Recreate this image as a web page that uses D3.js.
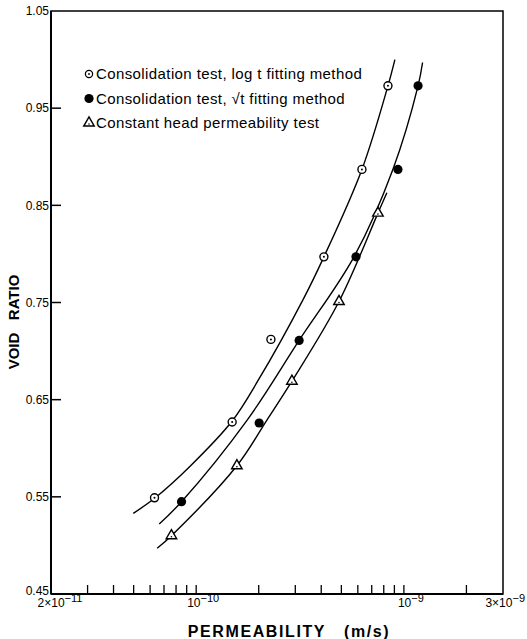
<!DOCTYPE html>
<html>
<head>
<meta charset="utf-8">
<script src="https://cdn.jsdelivr.net/npm/d3@7"></script>
<style>
  body { margin: 0; background: #fff; }
  text { font-family: "Liberation Sans", Arial, Helvetica, sans-serif; fill: #000; }
</style>
</head>
<body>
<div id="chart"></div>
<script>
/* measured points */
var logT_k  = [6.3e-11, 1.49e-10, 2.29e-10, 4.12e-10, 6.28e-10, 8.38e-10];
var logT_e  = [0.549, 0.627, 0.712, 0.797, 0.887, 0.973];
var rootT_k = [8.5e-11, 2.01e-10, 3.13e-10, 5.88e-10, 9.36e-10, 1.17e-9];
var rootT_e = [0.545, 0.626, 0.711, 0.797, 0.887, 0.973];
var head_k  = [7.6e-11, 1.57e-10, 2.89e-10, 4.87e-10, 7.5e-10];
var head_e  = [0.510, 0.582, 0.669, 0.751, 0.842];

/* fitted curves, as drawn by hand on the original */
var logTCurve_k  = [4.98e-11, 6.35e-11, 9.4e-11, 1.49e-10, 1.99e-10, 3.27e-10, 4.12e-10, 6.28e-10, 8.38e-10, 9.05e-10];
var logTCurve_e  = [0.533, 0.549, 0.582, 0.628, 0.670, 0.753, 0.797, 0.887, 0.973, 1.000];
var rootTCurve_k = [6.64e-11, 8.5e-11, 1.76e-10, 3.13e-10, 5.75e-10, 8.85e-10, 1.17e-9, 1.23e-9];
var rootTCurve_e = [0.522, 0.545, 0.629, 0.711, 0.797, 0.887, 0.973, 0.997];
var headCurve_k  = [6.49e-11, 7.6e-11, 1.57e-10, 2.19e-10, 2.89e-10, 4.87e-10, 7.5e-10, 8.28e-10];
var headCurve_e  = [0.497, 0.510, 0.582, 0.629, 0.669, 0.751, 0.842, 0.863];

/* axes */
var yTicks = [0.45, 0.55, 0.65, 0.75, 0.85, 0.95, 1.05];
var xMinorTicks = [3e-11, 4e-11, 5e-11, 6e-11, 7e-11, 8e-11, 9e-11, 1e-10,
                   2e-10, 3e-10, 4e-10, 5e-10, 6e-10, 7e-10, 8e-10, 9e-10, 1e-9, 2e-9];
var xLabelVals = [2e-11, 1e-10, 1e-9, 3e-9];
var xLabelBase = ["2\u00d710", "10", "10", "3\u00d710"];
var xLabelExp  = ["\u221211", "\u221210", "\u22129", "\u22129"];

var legendLabels = ["Consolidation test, log t fitting method",
                    "Consolidation test, \u221at fitting method",
                    "Constant head permeability test"];

var W = 527, H = 639;

var x = d3.scaleLog().domain([2e-11, 3e-9]).range([51, 503]);
var y = d3.scaleLinear().domain([0.45, 1.05]).range([594, 11]);

var svg = d3.select("#chart").append("svg")
    .attr("width", W)
    .attr("height", H);

/* frame */
svg.append("rect")
  .attr("x", x(2e-11)).attr("y", y(1.05))
  .attr("width", x(3e-9) - x(2e-11))
  .attr("height", y(0.45) - y(1.05))
  .attr("fill", "none").attr("stroke", "#000").attr("stroke-width", 1.5);
svg.append("line")
  .attr("x1", x(2e-11)).attr("x2", x(2e-11))
  .attr("y1", y(1.05)).attr("y2", y(0.45))
  .attr("stroke", "#000").attr("stroke-width", 2);
svg.append("line")
  .attr("x1", x(2e-11)).attr("x2", x(3e-9))
  .attr("y1", y(0.45)).attr("y2", y(0.45))
  .attr("stroke", "#000").attr("stroke-width", 2);

/* y ticks (inward) */
svg.selectAll("line.ytick")
  .data(yTicks.slice(1, -1))
  .enter().append("line")
  .attr("class", "ytick")
  .attr("x1", x(2e-11)).attr("x2", x(2e-11) + 10)
  .attr("y1", d => y(d)).attr("y2", d => y(d))
  .attr("stroke", "#000").attr("stroke-width", 1.5);

svg.selectAll("text.ylab")
  .data(yTicks)
  .enter().append("text")
  .attr("class", "ylab")
  .attr("x", x(2e-11) - 2)
  .attr("y", d => y(d))
  .attr("dy", d => d === 0.45 ? "0.1em" : "0.35em")
  .attr("text-anchor", "end")
  .style("font-size", "12px")
  .text(d => d.toFixed(2));

/* x ticks (inward) */
svg.selectAll("line.xtick")
  .data(xMinorTicks)
  .enter().append("line")
  .attr("class", "xtick")
  .attr("x1", d => x(d)).attr("x2", d => x(d))
  .attr("y1", y(0.45)).attr("y2", y(0.45) - 9)
  .attr("stroke", "#000").attr("stroke-width", 1.3);

var lastLab = xLabelVals.length - 1;
var xl = svg.selectAll("text.xlab")
  .data(xLabelVals)
  .enter().append("text")
  .attr("class", "xlab")
  .attr("x", (d, i) => i === lastLab ? W - 2 : x(d) + (i === 0 ? 9 : 7))
  .attr("y", 607)
  .attr("text-anchor", (d, i) => i === lastLab ? "end" : "middle")
  .style("font-size", "12px");
xl.append("tspan").text((d, i) => xLabelBase[i]);
xl.append("tspan")
  .attr("dy", -5)
  .style("font-size", "11px")
  .text((d, i) => xLabelExp[i]);

/* axis titles */
svg.append("text")
  .attr("x", 289).attr("y", 637)
  .attr("text-anchor", "middle")
  .style("font-size", "16px")
  .style("font-weight", "bold")
  .style("letter-spacing", "1.6px")
  .attr("xml:space", "preserve")
  .text("PERMEABILITY   (m/s)");

svg.append("text")
  .attr("transform", "translate(19,322) rotate(-90)")
  .attr("text-anchor", "middle")
  .style("font-size", "15px")
  .style("font-weight", "bold")
  .attr("xml:space", "preserve")
  .text("VOID   RATIO");

/* curves */
var line = d3.line()
  .x(d => x(d[0]))
  .y(d => y(d[1]))
  .curve(d3.curveCatmullRom.alpha(0.5));

var curves = [
  d3.zip(logTCurve_k, logTCurve_e),
  d3.zip(rootTCurve_k, rootTCurve_e),
  d3.zip(headCurve_k, headCurve_e)
];

svg.selectAll("path.curve")
  .data(curves)
  .enter().append("path")
  .attr("class", "curve")
  .attr("d", line)
  .attr("fill", "none")
  .attr("stroke", "#000")
  .attr("stroke-width", 1.4);

/* markers */
function openCircle(g) {
  g.append("circle").attr("r", 4).attr("fill", "#fff").attr("stroke", "#000").attr("stroke-width", 1.4);
  g.append("circle").attr("r", 1).attr("fill", "#000");
}
function filledCircle(g) {
  g.append("circle").attr("r", 4.6).attr("fill", "#000");
}
function triangle(g) {
  g.append("path")
    .attr("d", d3.symbol().type(d3.symbolTriangle).size(48))
    .attr("fill", "#fff").attr("stroke", "#000").attr("stroke-width", 1.4);
  g.append("circle").attr("r", 0.8).attr("cy", 1).attr("fill", "#000");
}

function drawPoints(kArr, eArr, fn) {
  svg.append("g").selectAll("g")
    .data(d3.zip(kArr, eArr))
    .enter().append("g")
    .attr("transform", d => "translate(" + x(d[0]) + "," + y(d[1]) + ")")
    .each(function() { fn(d3.select(this)); });
}
drawPoints(logT_k, logT_e, openCircle);
drawPoints(rootT_k, rootT_e, filledCircle);
drawPoints(head_k, head_e, triangle);

/* legend */
var markerFns = [openCircle, filledCircle, triangle];
var leg = svg.append("g").selectAll("g")
  .data(legendLabels)
  .enter().append("g")
  .attr("transform", (d, i) => "translate(89," + (74 + i * 24.5) + ")");
leg.each(function(d, i) {
  var g = d3.select(this);
  var m = g.append("g");
  if (i === 0) m.attr("transform", "scale(0.9)");
  markerFns[i](m);
  g.append("text")
    .attr("x", 7)
    .attr("dy", "0.36em")
    .style("font-size", "15px")
    .style("letter-spacing", "0.4px")
    .text(d);
});
</script>
</body>
</html>
